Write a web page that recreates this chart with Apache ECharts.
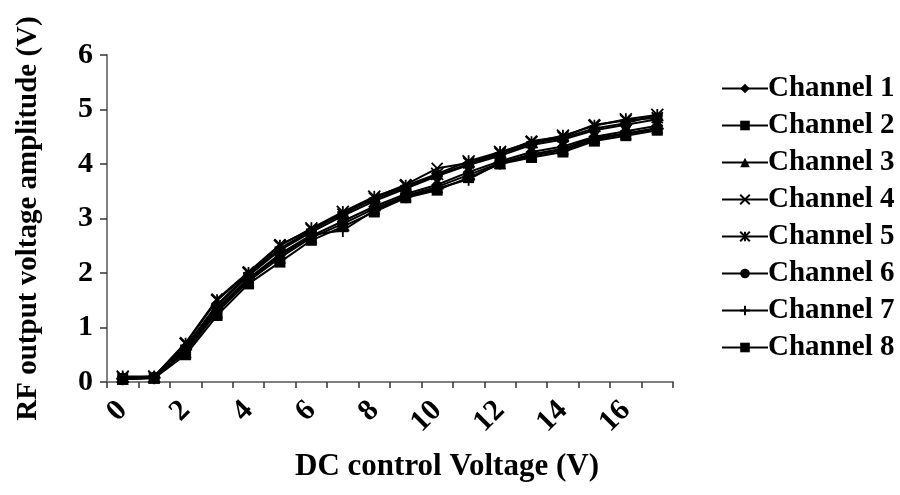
<!DOCTYPE html>
<html><head><meta charset="utf-8">
<script src="https://cdn.jsdelivr.net/npm/echarts@6/dist/echarts.min.js"></script>
<style>html,body{margin:0;padding:0;background:#fff}#c{width:900px;height:495px}</style>
</head><body><div id="c"></div>
<script>
const categories = ['0','1','2','3','4','5','6','7','8','9','10','11','12','13','14','15','16','17'];
const ch1 = [0.06,0.08,0.58,1.32,1.88,2.32,2.68,2.95,3.22,3.45,3.62,3.85,4.05,4.22,4.32,4.50,4.60,4.70];
const ch2 = [0.05,0.07,0.50,1.22,1.80,2.20,2.60,2.85,3.12,3.38,3.52,3.75,4.00,4.12,4.22,4.42,4.52,4.62];
const ch3 = [0.06,0.08,0.55,1.28,1.85,2.28,2.65,2.90,3.18,3.42,3.58,3.80,4.02,4.18,4.28,4.48,4.56,4.66];
const ch4 = [0.08,0.10,0.72,1.52,2.02,2.52,2.80,3.08,3.38,3.62,3.92,4.02,4.20,4.42,4.50,4.72,4.80,4.85];
const ch5 = [0.10,0.10,0.70,1.50,2.00,2.50,2.82,3.12,3.40,3.60,3.82,4.05,4.22,4.40,4.52,4.70,4.82,4.90];
const ch6 = [0.07,0.09,0.62,1.40,1.95,2.42,2.75,3.05,3.32,3.55,3.78,3.98,4.15,4.35,4.45,4.62,4.72,4.82];
const ch7 = [0.06,0.08,0.60,1.35,1.90,2.35,2.70,2.78,3.15,3.40,3.55,3.72,4.02,4.15,4.25,4.45,4.55,4.65];
const ch8 = [0.07,0.09,0.65,1.42,1.98,2.45,2.78,3.10,3.35,3.58,3.80,4.00,4.18,4.38,4.48,4.65,4.75,4.90];
const seriesNames = ['Channel 1','Channel 2','Channel 3','Channel 4','Channel 5','Channel 6','Channel 7','Channel 8'];
const seriesData = [ch1,ch2,ch3,ch4,ch5,ch6,ch7,ch8];
const yTicks = [0,1,2,3,4,5,6];

const symbols = [
  'diamond',
  'rect',
  'triangle',
  'path://M0,0 L10,10 M10,0 L0,10',
  'path://M0,0 L10,10 M10,0 L0,10 M5,0 L5,10',
  'circle',
  'path://M5,0 L5,10 M0,5 L10,5',
  'path://M0,0 L10,0 L10,3 L0,3 Z'
];
const sizes = [12,11,12,11,12,11,13,[11,4]];
const strokeOnly = [false,false,false,true,true,false,true,false];

const FONT = '"Liberation Serif","Times New Roman",serif';
const chart = echarts.init(document.getElementById('c'), null, {renderer:'canvas'});
chart.setOption({
  animation:false,
  backgroundColor:'#fff',
  title:[{
    text:'DC control Voltage (V)', left:442, top:446, textAlign:'center',
    textStyle:{fontFamily:FONT, fontWeight:'bold', fontSize:31, color:'#000'}
  }],
  grid:{left:107, right:227, top:55, bottom:113, containLabel:false},
  legend:{
    orient:'vertical', left:716, top:69, itemGap:8, itemWidth:46, itemHeight:12,
    textStyle:{fontFamily:FONT, fontWeight:'bold', fontSize:29, color:'#000', padding:[0,0,0,-5]},
    data:seriesNames
  },
  xAxis:{
    type:'category', data:categories, boundaryGap:true,
    axisLine:{show:true, lineStyle:{color:'#808080', width:2}},
    axisTick:{show:true, interval:0, length:6, lineStyle:{color:'#333', width:1.5}},
    axisLabel:{interval:1, rotate:45, margin:24, fontFamily:FONT, fontWeight:'bold', fontSize:30, color:'#000'},
    splitLine:{show:false}
  },
  yAxis:{
    type:'value', min:0, max:6, interval:1,
    name:'RF output voltage amplitude (V)', nameLocation:'middle', nameRotate:90, nameGap:64,
    nameTextStyle:{fontFamily:FONT, fontWeight:'bold', fontSize:29, color:'#000'},
    axisLine:{show:true, lineStyle:{color:'#808080', width:2}},
    axisTick:{show:true, length:7, lineStyle:{color:'#333', width:1.5}},
    axisLabel:{margin:14, fontFamily:FONT, fontWeight:'bold', fontSize:30, color:'#000',
      formatter:v=> yTicks.includes(v) ? String(v) : ''},
    splitLine:{show:false}
  },
  series: seriesData.map((d,i)=>({
    name:seriesNames[i], type:'line', data:d,
    symbol:symbols[i], symbolSize:sizes[i], showSymbol:true,
    lineStyle:{color:'#000', width:2},
    itemStyle: strokeOnly[i] ? {color:'#000', borderColor:'#000', borderWidth:1.8} : {color:'#000', borderColor:'#000', borderWidth:0}
  }))
});
</script></body></html>
